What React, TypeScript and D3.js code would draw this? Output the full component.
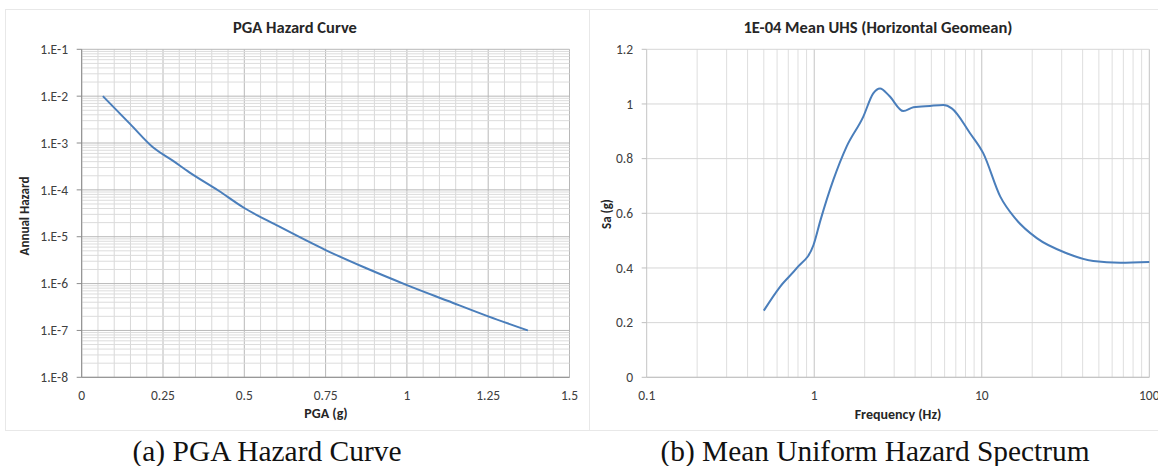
import React, { useRef, useEffect } from 'react';
import * as d3 from 'd3';

// PGA hazard curve: PGA (g) vs annual hazard
const pgaValues = [0.065, 0.15, 0.22, 0.28, 0.33, 0.42, 0.5, 0.6, 0.75, 0.87, 1.0, 1.125, 1.25, 1.372];
const hazardValues = [1e-2, 2.5e-3, 8.0e-4, 4.2e-4, 2.4e-4, 9.7e-5, 4.1e-5, 1.75e-5, 5.2e-6, 2.2e-6, 9.3e-7, 4.3e-7, 2.0e-7, 1.0e-7];
const pgaTicks = [0, 0.25, 0.5, 0.75, 1, 1.25, 1.5];
const hazardTickLabels = ['1.E-1', '1.E-2', '1.E-3', '1.E-4', '1.E-5', '1.E-6', '1.E-7', '1.E-8'];

// Mean UHS: frequency (Hz) vs Sa (g)
const freqValues = [0.5, 0.625, 0.786, 0.99, 1.09, 1.3, 1.56, 1.96, 2.25, 2.47, 2.8, 3.4, 3.91, 4.91, 5.9, 6.62, 8.51, 10.2, 12.9, 15.8, 21.3, 32.1, 46.3, 67, 100];
const saValues = [0.244, 0.331, 0.399, 0.484, 0.575, 0.722, 0.844, 0.953, 1.039, 1.057, 1.03, 0.974, 0.988, 0.993, 0.996, 0.984, 0.893, 0.82, 0.661, 0.582, 0.509, 0.454, 0.4255, 0.419, 0.422];
const freqTicks = [0.1, 1, 10, 100];
const saTicks = [0, 0.2, 0.4, 0.6, 0.8, 1, 1.2];

const FONT = 'Calibri, Carlito, "Open Sans", sans-serif';
const SERIF = '"Liberation Serif", "Times New Roman", serif';
const LINE = '#4a7ebb';

const App = () => {
  const svgRef = useRef<SVGSVGElement>(null);

  useEffect(() => {
    const svg = d3.select(svgRef.current);
    svg.selectAll('*').remove();

    // panel frames
    svg.append('rect').attr('x', 5.5).attr('y', 9.5).attr('width', 584).attr('height', 421)
      .attr('fill', '#fff').attr('stroke', '#e8e8e8');
    svg.append('rect').attr('x', 589.5).attr('y', 9.5).attr('width', 580).attr('height', 421)
      .attr('fill', '#fff').attr('stroke', '#e8e8e8');

    // ---------- left: PGA hazard curve ----------
    const top = 49.3, bottom = 377.3;
    const x = d3.scaleLinear().domain([0, 1.5]).range([81.7, 569.5]);
    const y = d3.scaleLog().domain([1e-8, 1e-1]).range([bottom, top]);
    const left = svg.append('g');

    // vertical grid every 0.05
    const vMinor = d3.range(0, 1.5001, 0.05);
    left.append('g').selectAll('line').data(vMinor).join('line')
      .attr('x1', d => x(d)).attr('x2', d => x(d)).attr('y1', top).attr('y2', bottom)
      .attr('stroke', d => (Math.abs(d / 0.25 - Math.round(d / 0.25)) < 1e-6 ? '#b8b8b8' : '#d8d8d8'))
      .attr('stroke-width', 1);

    // horizontal log grid
    const hLines: { v: number; major: boolean }[] = [];
    for (let e = -8; e < -1; e++) {
      for (let m = 1; m < 10; m++) hLines.push({ v: m * Math.pow(10, e), major: m === 1 });
    }
    hLines.push({ v: 1e-1, major: true });
    left.append('g').selectAll('line').data(hLines).join('line')
      .attr('x1', x(0)).attr('x2', x(1.5)).attr('y1', d => y(d.v)).attr('y2', d => y(d.v))
      .attr('stroke', d => (d.major ? '#b8b8b8' : '#dcdcdc'))
      .attr('stroke-width', 1);

    // axes lines
    left.append('line').attr('x1', x(0)).attr('x2', x(1.5)).attr('y1', bottom).attr('y2', bottom)
      .attr('stroke', '#8c8c8c');
    left.append('line').attr('x1', x(0)).attr('x2', x(0)).attr('y1', top).attr('y2', bottom)
      .attr('stroke', '#8c8c8c');

    // y ticks + labels
    const decades = hazardTickLabels.map((_, i) => Math.pow(10, -1 - i));
    left.append('g').selectAll('line').data(decades).join('line')
      .attr('x1', x(0) - 5).attr('x2', x(0)).attr('y1', d => y(d)).attr('y2', d => y(d))
      .attr('stroke', '#8c8c8c');
    left.append('g').selectAll('text').data(hazardTickLabels).join('text')
      .attr('x', 68).attr('y', (_, i) => y(decades[i]))
      .attr('dy', '0.35em').attr('text-anchor', 'end')
      .attr('font-family', FONT).attr('font-size', 13.5).attr('fill', '#404040')
      .text(d => d);

    // x labels
    left.append('g').selectAll('text').data(pgaTicks).join('text')
      .attr('x', d => x(d)).attr('y', 395).attr('dy', '0.35em').attr('text-anchor', 'middle')
      .attr('font-family', FONT).attr('font-size', 13.5).attr('fill', '#404040')
      .text(d => String(d));

    const line1 = d3.line<number>()
      .x((_, i) => x(pgaValues[i]))
      .y(d => y(d))
      .curve(d3.curveMonotoneX);
    left.append('path').datum(hazardValues).attr('d', line1)
      .attr('fill', 'none').attr('stroke', LINE).attr('stroke-width', 2);

    left.append('text').attr('x', 295).attr('y', 27).attr('dy', '0.35em').attr('text-anchor', 'middle')
      .attr('font-family', FONT).attr('font-weight', 'bold').attr('font-size', 16.5).attr('fill', '#262626')
      .text('PGA Hazard Curve');
    left.append('text').attr('x', 326).attr('y', 413).attr('dy', '0.35em').attr('text-anchor', 'middle')
      .attr('font-family', FONT).attr('font-weight', 'bold').attr('font-size', 14).attr('fill', '#262626')
      .text('PGA (g)');
    left.append('text').attr('transform', 'translate(24,216) rotate(-90)').attr('dy', '0.35em')
      .attr('text-anchor', 'middle')
      .attr('font-family', FONT).attr('font-weight', 'bold').attr('font-size', 13).attr('fill', '#262626')
      .text('Annual Hazard');

    // ---------- right: UHS ----------
    const fx = d3.scaleLog().domain([0.1, 100]).range([646.7, 1149.3]);
    const sy = d3.scaleLinear().domain([0, 1.2]).range([bottom, top]);
    const right = svg.append('g');

    const fLines: { v: number; major: boolean }[] = [];
    for (let e = -1; e < 2; e++) {
      for (let m = 1; m < 10; m++) fLines.push({ v: m * Math.pow(10, e), major: m === 1 });
    }
    fLines.push({ v: 100, major: true });
    right.append('g').selectAll('line').data(fLines).join('line')
      .attr('x1', d => fx(d.v)).attr('x2', d => fx(d.v)).attr('y1', top).attr('y2', bottom)
      .attr('stroke', d => (d.major ? '#c4c4c4' : '#dedede'));
    right.append('g').selectAll('line').data(saTicks).join('line')
      .attr('x1', fx(0.1)).attr('x2', fx(100)).attr('y1', d => sy(d)).attr('y2', d => sy(d))
      .attr('stroke', '#d6d6d6');

    right.append('line').attr('x1', fx(0.1)).attr('x2', fx(100)).attr('y1', bottom).attr('y2', bottom)
      .attr('stroke', '#bfbfbf');
    right.append('g').selectAll('line').data(saTicks).join('line')
      .attr('x1', fx(0.1) - 5).attr('x2', fx(0.1)).attr('y1', d => sy(d)).attr('y2', d => sy(d))
      .attr('stroke', '#bfbfbf');

    right.append('g').selectAll('text').data(saTicks).join('text')
      .attr('x', 633).attr('y', d => sy(d)).attr('dy', '0.35em').attr('text-anchor', 'end')
      .attr('font-family', FONT).attr('font-size', 13.5).attr('fill', '#404040')
      .text(d => String(d));
    right.append('g').selectAll('text').data(freqTicks).join('text')
      .attr('x', d => fx(d)).attr('y', 395).attr('dy', '0.35em').attr('text-anchor', 'middle')
      .attr('font-family', FONT).attr('font-size', 13.5).attr('fill', '#404040')
      .text(d => String(d));

    const line2 = d3.line<number>()
      .x((_, i) => fx(freqValues[i]))
      .y(d => sy(d))
      .curve(d3.curveMonotoneX);
    right.append('path').datum(saValues).attr('d', line2)
      .attr('fill', 'none').attr('stroke', LINE).attr('stroke-width', 2);

    right.append('text').attr('x', 878).attr('y', 27).attr('dy', '0.35em').attr('text-anchor', 'middle')
      .attr('font-family', FONT).attr('font-weight', 'bold').attr('font-size', 16.5).attr('fill', '#262626')
      .text('1E-04 Mean UHS (Horizontal Geomean)');
    right.append('text').attr('x', 898).attr('y', 414).attr('dy', '0.35em').attr('text-anchor', 'middle')
      .attr('font-family', FONT).attr('font-weight', 'bold').attr('font-size', 14).attr('fill', '#262626')
      .text('Frequency (Hz)');
    right.append('text').attr('transform', 'translate(606,214) rotate(-90)').attr('dy', '0.35em')
      .attr('text-anchor', 'middle')
      .attr('font-family', FONT).attr('font-weight', 'bold').attr('font-size', 13).attr('fill', '#262626')
      .text('Sa (g)');

    // captions
    svg.append('text').attr('x', 267).attr('y', 461).attr('text-anchor', 'middle')
      .attr('font-family', SERIF).attr('font-size', 29).attr('fill', '#111')
      .attr('textLength', 269).attr('lengthAdjust', 'spacingAndGlyphs')
      .text('(a) PGA Hazard Curve');
    svg.append('text').attr('x', 875).attr('y', 461).attr('text-anchor', 'middle')
      .attr('font-family', SERIF).attr('font-size', 29).attr('fill', '#111')
      .attr('textLength', 429).attr('lengthAdjust', 'spacingAndGlyphs')
      .text('(b) Mean Uniform Hazard Spectrum');
  }, []);

  return (
    <svg ref={svgRef} width={1158} height={466}
      style={{ position: 'absolute', left: 0, top: 0, background: '#fff' }} />
  );
};

export default App;
